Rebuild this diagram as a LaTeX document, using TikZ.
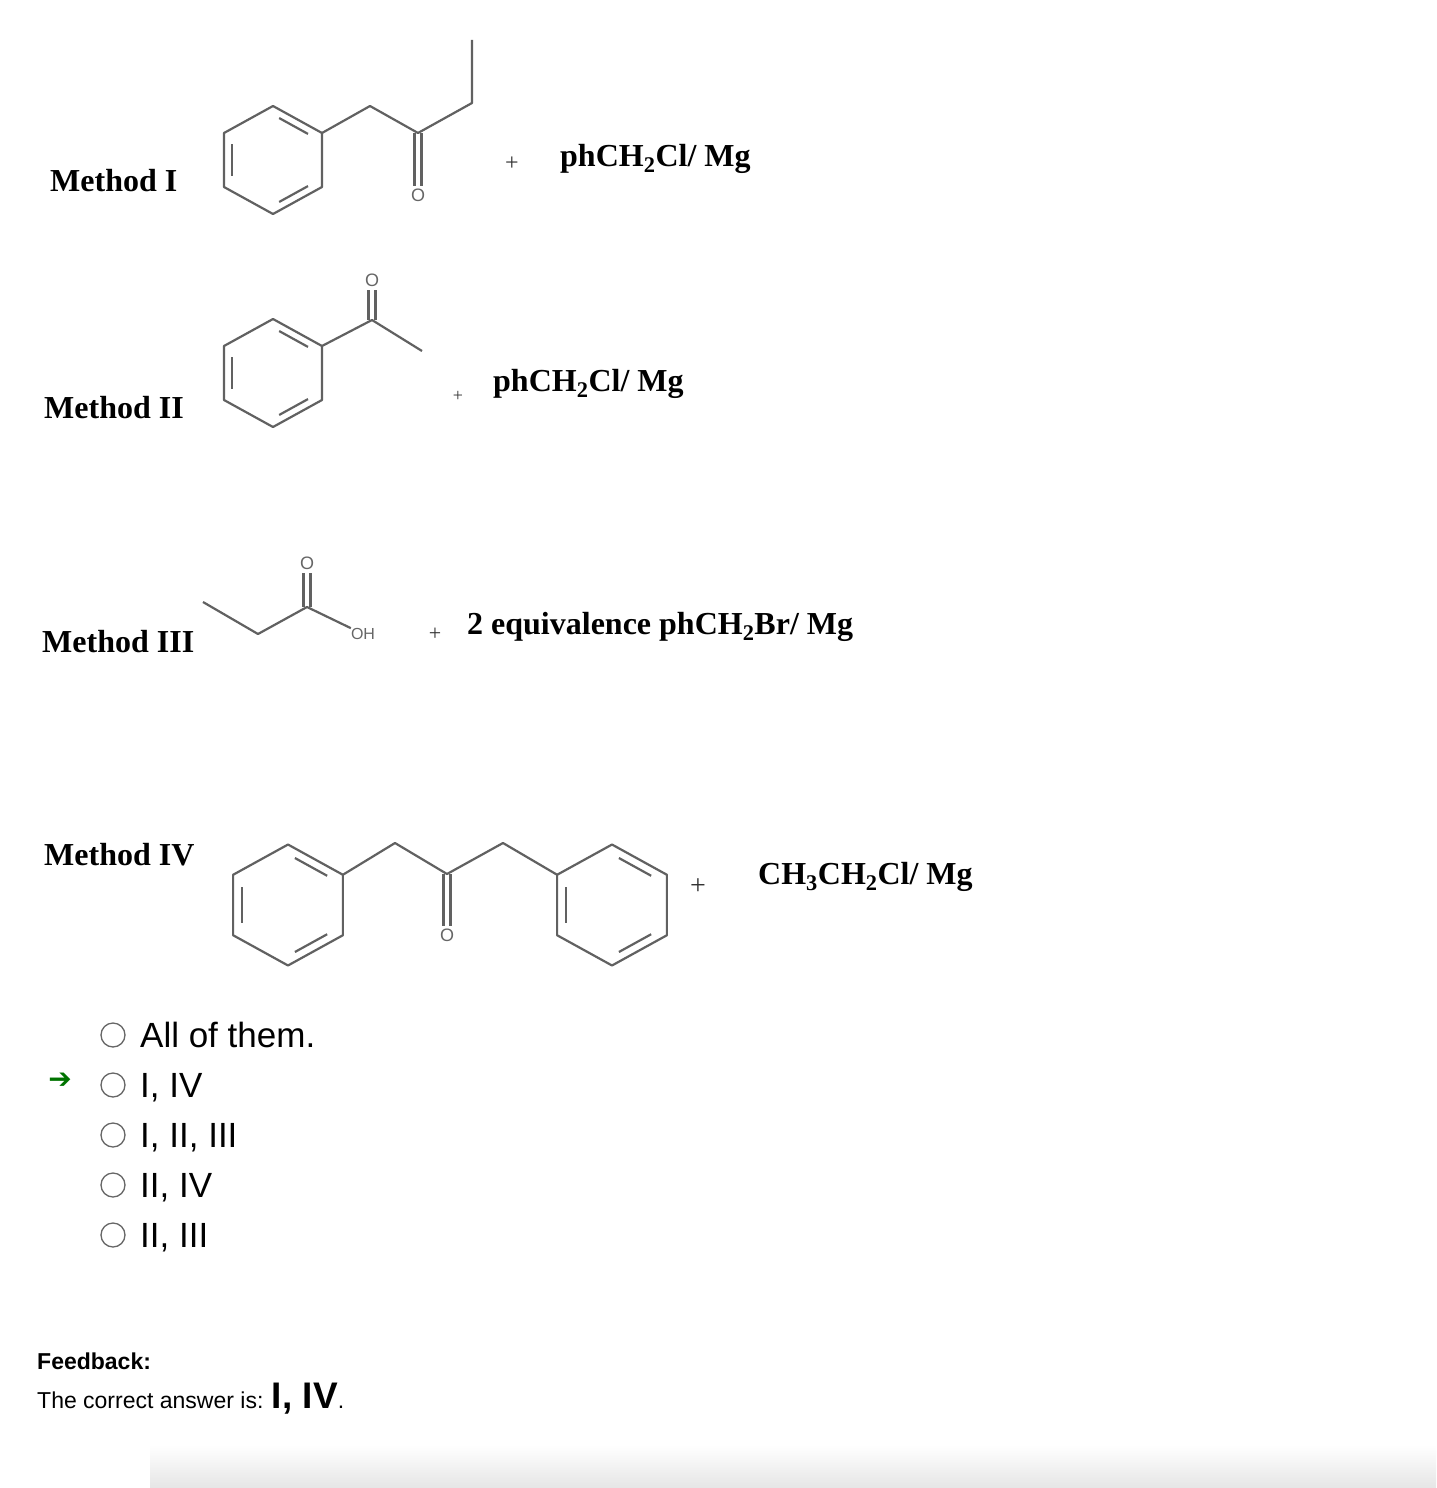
\documentclass[tikz,border=0pt]{standalone}
\usepackage{fontspec}
\setmainfont{Liberation Serif}
\setsansfont{Liberation Sans}
\newfontfamily\symfont{DejaVu Sans}
\usetikzlibrary{arrows.meta,calc}
\newcommand\myring[4]{%
  \coordinate (#1c) at (#2,#3);
  \coordinate (#1t) at (#2,#3-54*#4); \coordinate (#1ur) at (#2+49*#4,#3-27*#4);
  \coordinate (#1lr) at (#2+49*#4,#3+27*#4); \coordinate (#1b) at (#2,#3+54*#4);
  \coordinate (#1ll) at (#2-49*#4,#3+27*#4); \coordinate (#1ul) at (#2-49*#4,#3-27*#4);
  \draw[bond] (#1t)--(#1ur)--(#1lr)--(#1b)--(#1ll)--(#1ul)--cycle;}
\newcommand\innerdbl[3]{\draw[bond] ($(#1)!.15!(#2)!.16!(#3)$) -- ($(#2)!.15!(#1)!.16!(#3)$);}
\begin{document}
\begin{tikzpicture}[x=1pt,y=-1pt,
  bond/.style={draw=black!62,line width=2.2pt,line join=round},
  lab/.style={anchor=base west,inner sep=0pt,font=\fontsize{32}{32}\selectfont\bfseries},
  plus/.style={anchor=base,inner sep=0pt,text=black!80,font=\fontsize{24}{24}\selectfont},
  atom/.style={inner sep=0pt,text=black!60,font=\sffamily\fontsize{18}{18}\selectfont},
  opt/.style={anchor=base west,inner sep=0pt,font=\sffamily\fontsize{35}{35}\selectfont},
  radio/.style={circle,draw=black!60,line width=1.3pt,minimum size=24pt,inner sep=0pt}]
\useasboundingbox (0,0) rectangle (1436,1488);
\fill[white] (0,0) rectangle (1436,1488);
\shade[top color=white,bottom color=black!10] (150,1445) rectangle (1436,1488);
% ---------- Method I
\node[lab] (m1) at (50,191) {Method I};
\myring{a}{273}{160}{1}
\innerdbl{at}{aur}{ac}\innerdbl{alr}{ab}{ac}\innerdbl{all}{aul}{ac}
\coordinate (a1) at (370,106); \coordinate (a2) at (418,133); \coordinate (a3) at (472,103); \coordinate (a4) at (472,40);
\node[atom] (aO) at (418,195) {O};
\draw[bond] (aur)--(a1)--(a2)--(a3)--(a4);
\draw[bond] ($(a2)+(-3.5,0)$) -- ($(aO.north)+(-3.5,-2)$);
\draw[bond] ($(a2)+(3.5,0)$) -- ($(aO.north)+(3.5,-2)$);
\node[plus] (p1) at (512,170) {+};
\node[lab] (r1) at (560,166) {phCH\textsubscript{2}Cl/ Mg};
% ---------- Method II
\node[lab] (m2) at (44,418) {Method II};
\myring{b}{273}{373}{1}
\innerdbl{bt}{bur}{bc}\innerdbl{blr}{bb}{bc}\innerdbl{bll}{bul}{bc}
\coordinate (b1) at (372,320); \coordinate (b2) at (422,351);
\node[atom] (bO) at (372,280) {O};
\draw[bond] (bur)--(b1)--(b2);
\draw[bond] ($(b1)+(-3.5,0)$) -- ($(bO.south)+(-3.5,3)$);
\draw[bond] ($(b1)+(3.5,0)$) -- ($(bO.south)+(3.5,3)$);
\node[plus,font=\fontsize{18}{18}\selectfont] (p2) at (458,401) {+};
\node[lab] (r2) at (493,391) {phCH\textsubscript{2}Cl/ Mg};
% ---------- Method III
\node[lab] (m3) at (42,652) {Method III};
\coordinate (c0) at (203,602); \coordinate (c1) at (258,634); \coordinate (c2) at (307,607);
\node[atom,font=\sffamily\fontsize{16}{16}\selectfont] (cOH) at (363,634) {OH};
\node[atom] (cO) at (307,563) {O};
\draw[bond] (c0)--(c1)--(c2)--(cOH.north west);
\draw[bond] ($(c2)+(-3.5,0)$) -- ($(cO.south)+(-3.5,3)$);
\draw[bond] ($(c2)+(3.5,0)$) -- ($(cO.south)+(3.5,3)$);
\node[plus,font=\fontsize{22}{22}\selectfont] (p3) at (435,640) {+};
\node[lab] (r3) at (467,634) {2 equivalence phCH\textsubscript{2}Br/ Mg};
% ---------- Method IV
\node[lab] (m4) at (44,865) {Method IV};
\myring{d}{288}{905}{1.12}
\innerdbl{dt}{dur}{dc}\innerdbl{dlr}{db}{dc}\innerdbl{dll}{dul}{dc}
\myring{e}{612}{905}{1.12}
\innerdbl{et}{eur}{ec}\innerdbl{elr}{eb}{ec}\innerdbl{ell}{eul}{ec}
\coordinate (d1) at (395,843); \coordinate (d2) at (447,874); \coordinate (d3) at (503,843);
\node[atom] (dO) at (447,935) {O};
\draw[bond] (dur)--(d1)--(d2)--(d3)--(eul);
\draw[bond] ($(d2)+(-3.5,0)$) -- ($(dO.north)+(-3.5,-2)$);
\draw[bond] ($(d2)+(3.5,0)$) -- ($(dO.north)+(3.5,-2)$);
\node[plus,font=\fontsize{28}{28}\selectfont] (p4) at (698,894) {+};
\node[lab] (r4) at (758,884) {CH\textsubscript{3}CH\textsubscript{2}Cl/ Mg};
% ---------- options
\foreach \i/\t/\yy in {1/All of them./1035,2/{I, IV}/1085,3/{I, II, III}/1135,4/{II, IV}/1185,5/{II, III}/1235}{
  \node[radio] (r\i) at (113,\yy) {};
  \node[opt] (o\i) at (140,\yy+12) {\t};
}
\node[inner sep=0pt,text=green!45!black,font=\symfont\bfseries\fontsize{28}{28}\selectfont] (arr) at (60,1081) {➔};
\node[anchor=base west,inner sep=0pt,font=\sffamily\bfseries\fontsize{23}{23}\selectfont] (fb) at (37,1369) {Feedback:};
\node[anchor=base west,inner sep=0pt,font=\sffamily\fontsize{23}{23}\selectfont] (ans) at (37,1408) {The correct answer is: {\bfseries\fontsize{37}{37}\selectfont I, IV}.};
\end{tikzpicture}
\end{document}
